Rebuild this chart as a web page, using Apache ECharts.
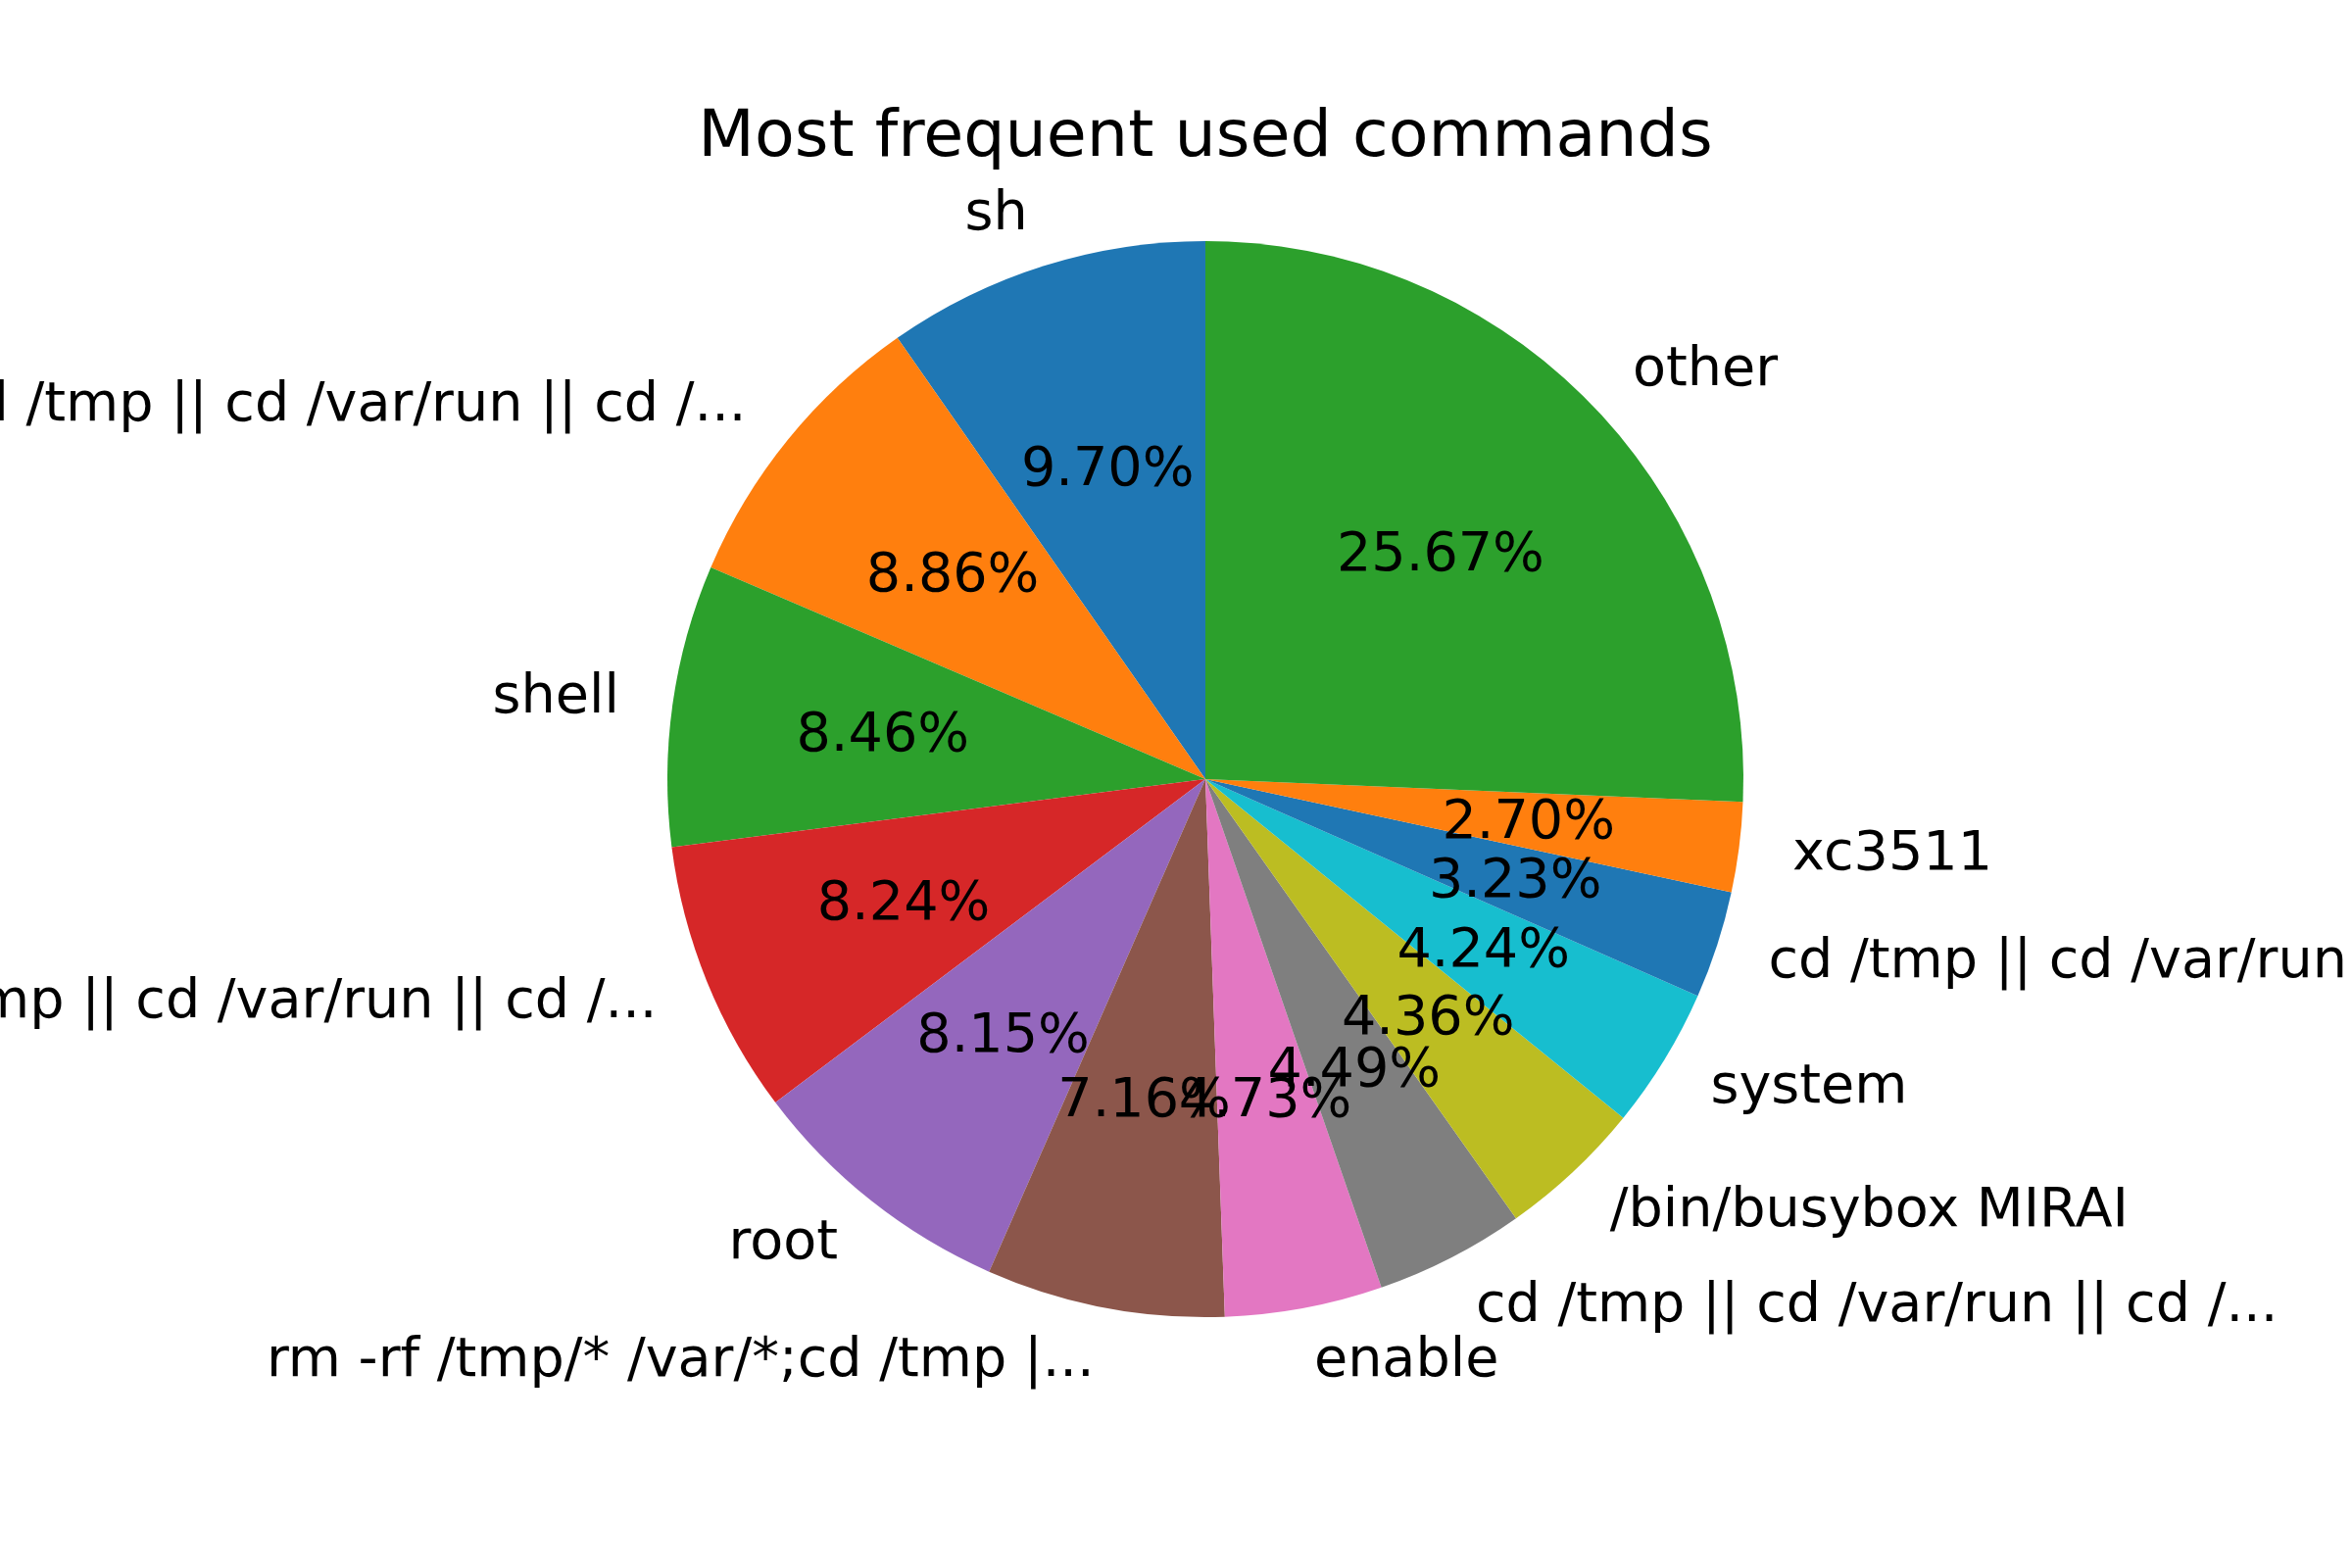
<!DOCTYPE html>
<html>
<head>
<meta charset="utf-8">
<title>Most frequent used commands</title>
<script src="https://cdn.jsdelivr.net/npm/echarts@6/dist/echarts.min.js"></script>
<style>
  html, body { margin: 0; padding: 0; background: #fff; }
  #chart { width: 2400px; height: 1600px; }
</style>
</head>
<body>
<div id="chart"></div>
<script>
// slice labels, in matplotlib order (counter-clockwise from 12 o'clock)
const commands = [
  "sh",
  "cd /tmp || cd /var/run || cd /...",
  "shell",
  "cd /tmp || cd /var/run || cd /...",
  "root",
  "rm -rf /tmp/* /var/*;cd /tmp |...",
  "enable",
  "cd /tmp || cd /var/run || cd /...",
  "/bin/busybox MIRAI",
  "system",
  "cd /tmp || cd /var/run || cd /...",
  "xc3511",
  "other"
];
// share of each command, percent
const shares = [9.70, 8.86, 8.46, 8.24, 8.15, 7.16, 4.73, 4.49, 4.36, 4.24, 3.23, 2.70, 25.67];
// tab10 cycle
const palette = ["#1f77b4", "#ff7f0e", "#2ca02c", "#d62728", "#9467bd",
                 "#8c564b", "#e377c2", "#7f7f7f", "#bcbd22", "#17becf"];

const FONT = "DejaVu Sans";
const R = 549;              // pie radius in px
const CENTER = [1230, 795];
const labelSize = 55.6;

const chart = echarts.init(document.getElementById("chart"));

const sliceData = commands.map((name, i) => ({
  name: name,
  value: shares[i],
  itemStyle: { color: palette[i % palette.length] }
}));

chart.setOption({
  animation: false,
  title: {
    text: "Most frequent used commands",
    left: 1225,
    textAlign: "center",
    top: 103,
    textStyle: { fontFamily: FONT, fontSize: 66.7, fontWeight: "normal", color: "#000" }
  },
  series: [
    {
      // wedges + outer name labels at 1.1 R
      type: "pie",
      center: CENTER,
      radius: [0, R],
      startAngle: 90,
      clockwise: false,
      avoidLabelOverlap: false,
      silent: true,
      data: sliceData,
      label: {
        show: true,
        position: "outside",
        formatter: "{b}",
        fontFamily: FONT,
        fontSize: labelSize,
        color: "#000",
        distanceToLabelLine: 0,
        verticalAlign: "middle",
        offset: [0, 1]
      },
      labelLine: { show: false, length: R * 0.1, length2: 0 },
      labelLayout: { hideOverlap: false },
      emphasis: { disabled: true }
    },
    {
      // invisible overlay so that "inside" labels land at 0.6 R
      type: "pie",
      center: CENTER,
      radius: [0, R * 1.2],
      startAngle: 90,
      clockwise: false,
      avoidLabelOverlap: false,
      silent: true,
      data: commands.map((name, i) => ({ name: name, value: shares[i] })),
      itemStyle: { color: "transparent" },
      label: {
        show: true,
        position: "inside",
        formatter: p => p.value.toFixed(2) + "%",
        fontFamily: FONT,
        fontSize: labelSize,
        color: "#000",
        textBorderWidth: 0,
        offset: [0, 3]
      },
      labelLine: { show: false },
      labelLayout: { hideOverlap: false },
      emphasis: { disabled: true }
    }
  ]
});
</script>
</body>
</html>
